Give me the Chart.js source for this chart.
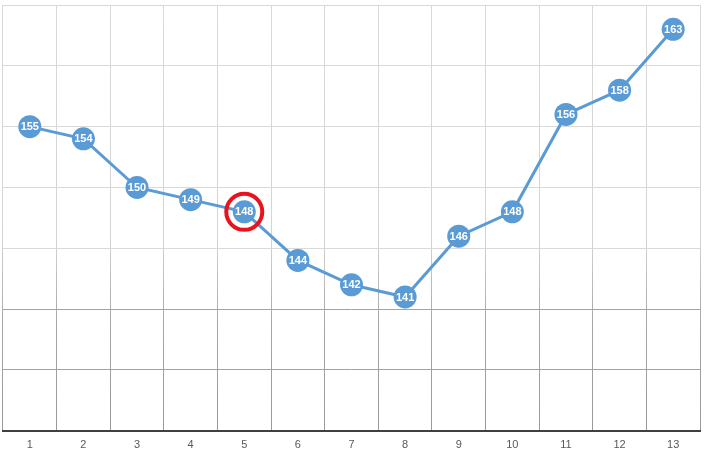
<!DOCTYPE html>
<html>
<head>
<meta charset="utf-8">
<script src="https://cdn.jsdelivr.net/npm/chart.js@4"></script>
<style>
  html, body { margin: 0; padding: 0; background: #fff; }
  #wrap { width: 711px; height: 457px; }
</style>
</head>
<body>
<div id="wrap"><canvas id="myChart"></canvas></div>
<script>
const labels = ['1', '2', '3', '4', '5', '6', '7', '8', '9', '10', '11', '12', '13'];
const values = [155, 154, 150, 149, 148, 144, 142, 141, 146, 148, 156, 158, 163];
const highlightIndex = 4;

const ctx = document.getElementById('myChart');

// vertical grid lines fade from light to darker grey going down
function vGridColor(context) {
  const chart = context.chart;
  const area = chart.chartArea;
  if (!area) return '#d9d9d9';
  const g = chart.ctx.createLinearGradient(0, area.top, 0, area.bottom);
  g.addColorStop(0, '#d9d9d9');
  g.addColorStop(0.55, '#d4d4d4');
  g.addColorStop(0.75, '#a6a6a6');
  g.addColorStop(1, '#999999');
  return g;
}

const labelPlugin = {
  id: 'pointLabels',
  afterDatasetsDraw(chart) {
    const c = chart.ctx;
    const meta = chart.getDatasetMeta(0);
    c.save();
    // red ring around the highlighted point
    const hp = meta.data[highlightIndex];
    c.beginPath();
    c.arc(hp.x, hp.y, 18, 0, Math.PI * 2);
    c.strokeStyle = '#e8131f';
    c.lineWidth = 4;
    c.stroke();

    c.fillStyle = '#ffffff';
    c.font = 'bold 11px "Liberation Sans Narrow", "Liberation Sans", Arial, sans-serif';
    c.textAlign = 'center';
    c.textBaseline = 'middle';
    meta.data.forEach((pt, i) => {
      c.fillText(String(values[i]), pt.x, pt.y + 0.5);
    });
    c.restore();
  }
};

new Chart(ctx, {
  type: 'line',
  data: {
    labels: labels,
    datasets: [{
      data: values,
      borderColor: '#5b9bd5',
      backgroundColor: '#5b9bd5',
      borderWidth: 3,
      pointRadius: 11.5,
      pointHoverRadius: 11.5,
      pointBorderWidth: 0,
      tension: 0
    }]
  },
  options: {
    responsive: true,
    maintainAspectRatio: false,
    animation: false,
    layout: { autoPadding: false, padding: { left: 3, right: 11, top: 5, bottom: -3 } },
    plugins: {
      legend: { display: false },
      tooltip: { enabled: false }
    },
    scales: {
      x: {
        offset: true,
        grid: {
          offset: true,
          drawTicks: false,
          color: vGridColor,
          lineWidth: 1
        },
        border: { color: '#404040', width: 2 },
        ticks: {
          color: '#595959',
          padding: 8,
          font: { size: 11, family: '"Liberation Sans Narrow", "Liberation Sans", Arial, sans-serif' }
        }
      },
      y: {
        min: 130,
        max: 165,
        ticks: { display: false, stepSize: 5, padding: 0 },
        grid: {
          drawTicks: false,
          color: (c) => c.tick && c.tick.value <= 140 ? '#a3a3a3' : '#d9d9d9'
        },
        border: { display: false }
      }
    }
  },
  plugins: [labelPlugin]
});
</script>
</body>
</html>
